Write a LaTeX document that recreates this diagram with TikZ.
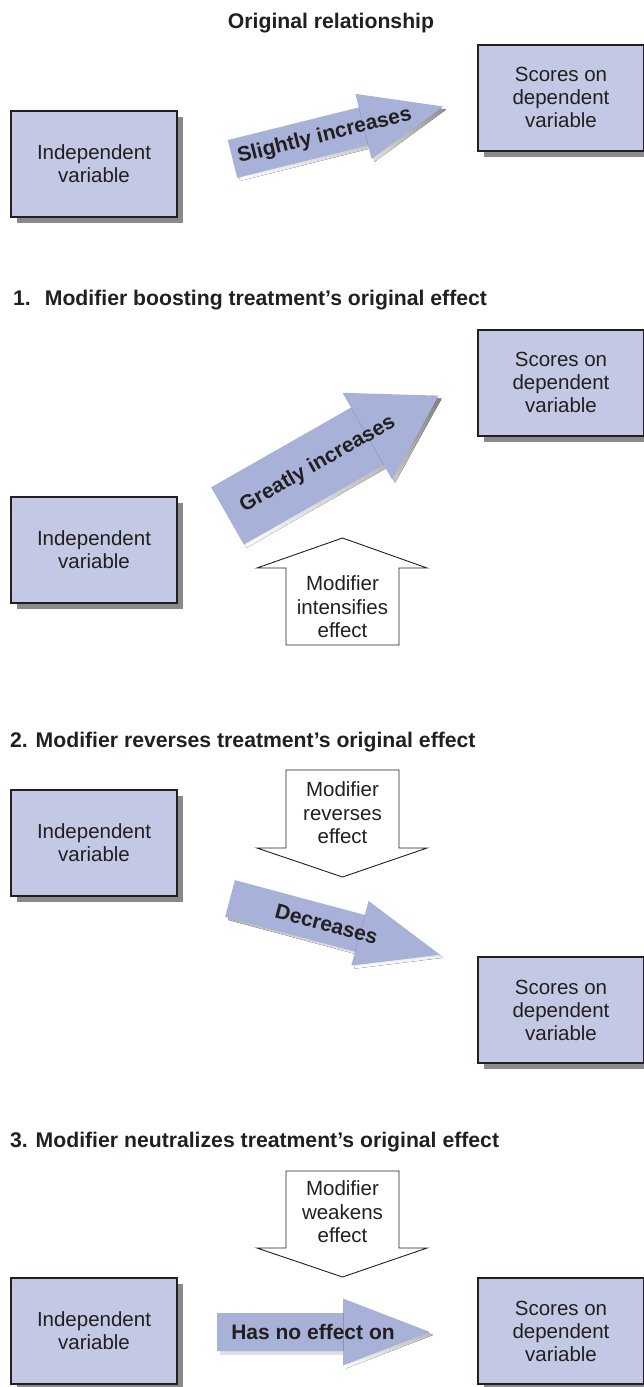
\documentclass[tikz,border=0pt]{standalone}
\usepackage{fontspec}
\setmainfont{Liberation Sans}
\usetikzlibrary{shadows}
\definecolor{boxfill}{RGB}{195,201,228}
\definecolor{arrowfill}{RGB}{168,178,216}
\definecolor{shade}{RGB}{138,138,140}
\definecolor{ink}{RGB}{35,31,32}
\tikzset{
 varbox/.style={draw=ink, line width=2pt, fill=boxfill, minimum width=166pt, minimum height=106pt,
   inner sep=0pt, align=center, font=\fontsize{20.5}{23}\selectfont, text=ink,
   general shadow={fill=shade, shadow xshift=6pt, shadow yshift=-6pt}},
 heading/.style={font=\fontsize{21.2}{24}\selectfont\bfseries, text=ink, inner sep=0pt},
 modtext/.style={align=center, font=\fontsize{20.5}{23.5}\selectfont, text=ink, inner sep=0pt},
 modarrow/.style={draw=ink, line width=0.9pt, fill=white, line join=miter},
 arrowlabel/.style={font=\fontsize{21}{24}\selectfont\bfseries, text=ink, inner sep=0pt},
 seam/.style={draw=arrowfill!82!black, line width=0.4pt},
}
% #1 name, #2 tail centre, #3 angle, #4 length, #5 shaft half width,
% #6 head half width, #7 head length, #8 label position, #9 label
\newcommand{\fatarrow}[9]{%
 \begin{scope}[shift={#2}, shift={(3,3)}, rotate=#3]
  \fill[shade] (0,-#5) -- ({#4-#7},-#5) -- ({#4-#7},-#6) -- (#4,0) -- ({#4-#7},#6) -- ({#4-#7},#5) -- (0,#5) -- cycle;
 \end{scope}
 \begin{scope}[shift={#2}, rotate=#3]
  \fill[arrowfill] (0,-#5) -- ({#4-#7},-#5) -- ({#4-#7},-#6) -- (#4,0) -- ({#4-#7},#6) -- ({#4-#7},#5) -- (0,#5) -- cycle;
  \draw[seam] ({#4-#7},-#5) -- ({#4-#7},#5);
  \node[arrowlabel, rotate=#3] (#1) at (#8,0) {#9};
 \end{scope}}
\begin{document}
\begin{tikzpicture}[x=1pt, y=-1pt]
\useasboundingbox (0,0) rectangle (643,1387);

% ---------- Original relationship ----------
\node[heading, anchor=base] (title) at (331,28) {Original relationship};
\node[varbox] (iv0) at (94,164) {Independent\\variable};
\node[varbox] (dv0) at (561,97.5) {Scores on\\dependent\\variable};
\fatarrow{a0}{(232.5,159)}{14}{217}{19.5}{33.5}{82}{95}{Slightly increases}

% ---------- 1 ----------
\node[heading, anchor=base west] (h1) at (13,305) {1.\hspace{14pt}Modifier boosting treatment's original effect};
\node[varbox] (dv1) at (561,382.5) {Scores on\\dependent\\variable};
\node[varbox] (iv1) at (94,550) {Independent\\variable};
\fatarrow{a1}{(227.5,516)}{29.7}{243}{33}{50}{82}{104}{Greatly increases}
\draw[modarrow] (286,645) -- (286,568) -- (257,568) -- (342.5,538) -- (427,568) -- (399,568) -- (399,645) -- cycle;
\node[modtext] (m1) at (342.5,607) {Modifier\\intensifies\\effect};

% ---------- 2 ----------
\node[heading, anchor=base west] (h2) at (10,747) {2. Modifier reverses treatment's original effect};
\node[varbox] (iv2) at (94,843) {Independent\\variable};
\draw[modarrow] (286,770) -- (399,770) -- (399,848) -- (427,848) -- (342.5,877) -- (257,848) -- (286,848) -- cycle;
\node[modtext] (m2) at (342.5,813) {Modifier\\reverses\\effect};
\fatarrow{a2}{(230,898.5)}{-15}{217.5}{19}{33.5}{83}{100}{Decreases}
\node[varbox] (dv2) at (561,1010) {Scores on\\dependent\\variable};

% ---------- 3 ----------
\node[heading, anchor=base west] (h3) at (10,1147) {3. Modifier neutralizes treatment's original effect};
\draw[modarrow] (286,1171) -- (399,1171) -- (399,1248) -- (427,1248) -- (342.5,1277) -- (257,1248) -- (286,1248) -- cycle;
\node[modtext] (m3) at (342.5,1212) {Modifier\\weakens\\effect};
\node[varbox] (iv3) at (94,1331) {Independent\\variable};
\node[varbox] (dv3) at (561,1331) {Scores on\\dependent\\variable};
\fatarrow{a3}{(217,1332)}{0}{213}{19}{33.5}{87}{96}{Has no effect on}
\end{tikzpicture}
\end{document}
